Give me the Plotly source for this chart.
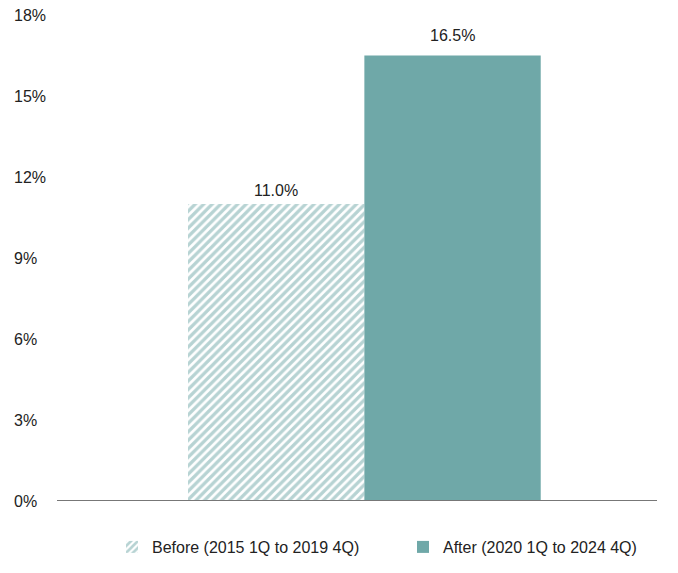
import plotly.graph_objects as go

category = [0]
series_names = ["Before (2015 1Q to 2019 4Q)", "After (2020 1Q to 2024 4Q)"]
before_vals = [11.0]
after_vals = [16.5]
tick_vals = [0, 3, 6, 9, 12, 15, 18]
tick_text = ["0%", "3%", "6%", "9%", "12%", "15%", "18%"]

TEAL = "#6fa8a8"
FONT = "Liberation Sans, Arial, sans-serif"
FS = 16

BARGAP = 0.454

fig = go.Figure()
fig.add_trace(go.Bar(
    x=category, y=before_vals, name=series_names[0],
    marker=dict(color="white", line=dict(width=0),
                pattern=dict(shape="/", fgcolor=TEAL, bgcolor="white", size=6, solidity=0.55)),
))
fig.add_trace(go.Bar(
    x=category, y=after_vals, name=series_names[1],
    marker=dict(color=TEAL, line=dict(width=0)),
))

# value labels above the bars (grouped-bar centres derived from bargap)
bar_w = (1 - BARGAP) / 2
label_shift = [3, 10]
annotations = []
for i, vals in enumerate([before_vals, after_vals]):
    for xc, v in zip(category, vals):
        annotations.append(dict(
            x=xc + (i - 0.5) * bar_w, y=v, xref="x", yref="y",
            text=f"{v:.1f}%", showarrow=False, yanchor="bottom", yshift=label_shift[i],
            font=dict(size=FS, color="#222222", family=FONT)))

L, R, T, B = 11, 21, 15, 72
W, H = 678, 573
pw = W - L - R

fig.update_layout(
    width=W, height=H,
    margin=dict(l=L, r=R, t=T, b=B, pad=0, autoexpand=False),
    paper_bgcolor="white", plot_bgcolor="white",
    barmode="group", bargap=BARGAP, bargroupgap=0,
    font=dict(family=FONT, size=FS, color="#222222"),
    showlegend=True,
    legend=dict(orientation="h", x=(403 - L) / pw, xanchor="center",
                yref="container", y=1 - 547 / H, yanchor="middle",
                entrywidth=246, entrywidthmode="pixels",
                font=dict(size=FS, color="#222222", family=FONT),
                traceorder="normal"),
    xaxis=dict(range=[-0.547, 0.453], showticklabels=False, showgrid=False,
               zeroline=False, showline=False, ticks=""),
    yaxis=dict(range=[0, 18], tickvals=tick_vals, ticktext=tick_text,
               ticklabelposition="inside", ticklabeloverflow="allow",
               showgrid=False, zeroline=False, showline=False, ticks="",
               tickfont=dict(size=FS, color="#222222", family=FONT)),
    shapes=[dict(type="line", xref="paper", yref="y",
                 x0=(57 - L) / pw, x1=1, y0=0, y1=0,
                 line=dict(color="#777777", width=2))],
    annotations=annotations,
)

fig.write_html("out.html")
